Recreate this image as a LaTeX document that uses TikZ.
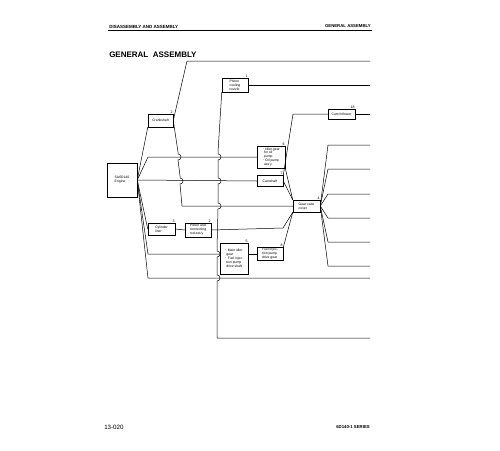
\documentclass[tikz,border=0pt]{standalone}
\usepackage{fontspec}
\setmainfont{Liberation Sans}
\usetikzlibrary{positioning}

\begin{document}
\begin{tikzpicture}[x=1pt,y=-1pt,
  part/.style={draw, rectangle, inner sep=0.8pt, align=left,
               font=\fontsize{3.4}{3.9}\selectfont},
  num/.style={font=\fontsize{3.6}{4}\selectfont, inner sep=0.4pt, anchor=south east},
  hopv/.style 2 args={insert path={-- (#1,#2-3) .. controls (#1+4,#2-3) and (#1+4,#2+3) .. (#1,#2+3)}},
  line width=0.5pt
]
  \useasboundingbox (0,0) rectangle (500,450);

  % page header and footer
  \node[anchor=west, font=\fontsize{4.5}{5}\selectfont\bfseries, inner sep=0] (hl) at (109,26.5) {DISASSEMBLY AND ASSEMBLY};
  \node[anchor=east, font=\fontsize{4.3}{5}\selectfont\bfseries, inner sep=0] (hr) at (371,26.5) {GENERAL ASSEMBLY};
  \draw[line width=0.9pt] (108,30.5) -- (372,30.5);
  \node[anchor=west, font=\fontsize{8}{10}\selectfont\bfseries, inner sep=0] (title) at (109,55) {GENERAL\ \ ASSEMBLY};
  \node[anchor=west, font=\fontsize{6.2}{7}\selectfont, inner sep=0] (page) at (104,427) {13-020};
  \node[anchor=east, font=\fontsize{4.3}{5}\selectfont\bfseries, inner sep=0] (series) at (370,427) {6D140-1 SERIES};

  % parts
  \node[part, minimum width=30pt, minimum height=34pt] (eng) at (122,180) {SA6D140\\Engine};
  \node[part, minimum width=25pt, minimum height=13pt] (crank) at (160.5,120.5) {Crankshaft};
  \node[part, minimum width=26pt, minimum height=14pt] (nozzle) at (235,85) {Piston\\cooling\\nozzle};
  \node[part, minimum width=27pt, minimum height=10pt] (camf) at (341.5,114) {Cam follower};
  \node[part, minimum width=28pt, minimum height=22pt] (idler) at (271,157) {$\cdot$ Idler gear\\\ \ for oil\\\ \ pump\\$\cdot$ Oil pump\\\ \ ass'y};
  \node[part, minimum width=26pt, minimum height=11pt] (cam) at (270,181) {Camshaft};
  \node[part, minimum width=27pt, minimum height=12pt] (gcc) at (306.5,206) {Gear case\\cover};
  \node[part, minimum width=27pt, minimum height=12pt] (cyl) at (161.5,229) {Cylinder\\liner};
  \node[part, minimum width=26pt, minimum height=14pt] (piston) at (198,230) {Piston and\\connecting\\rod ass'y};
  \node[part, minimum width=28pt, minimum height=31pt] (midler) at (234,258.5) {$\cdot$ Main idler\\\ \ gear\\$\cdot$ Fuel injec-\\\ \ tion pump\\\ \ drive shaft};
  \node[part, minimum width=26pt, minimum height=12pt] (fgear) at (270,254) {Fuel injec-\\tion pump\\drive gear};

  % order numbers
  \node[num] (n1) at (nozzle.north east) {1};
  \node[num] (n2) at (crank.north east) {2};
  \node[num] (n16) at (camf.north east) {18};
  \node[num] (n6) at (idler.north east) {6};
  \node[num] (n7) at (cam.north east) {7};
  \node[num] (n4) at (gcc.north east) {4};
  \node[num] (n3) at (cyl.north east) {3};
  \node[num] (n12) at (piston.north east) {2};
  \node[num] (n5) at (midler.north east) {5};
  \node[num] (n8) at (fgear.north east) {8};

  % free ends at the right margin
  \coordinate (top) at (370,61);
  \coordinate (nozend) at (370,85);
  \coordinate (camfend) at (370,114);
  \coordinate (low1) at (370,278);
  \coordinate (low2) at (370,338);

  % engine fan
  \draw (eng.east) -- (crank.south west);
  \draw (eng.east) -- (148,157) -- (idler.west |- 0,157);
  \draw (eng.east) -- (cam.west);
  \draw (eng.east) -- (cyl.west);
  \draw (eng.east) -- (148,254) -- (216.5,254) -- (midler.west |- 0,254);
  \draw (eng.east) -- (148,278) -- (low1);

  % crankshaft
  \draw (crank.east) -- (187,61) -- (top);
  \draw (crank.east) -- (178,152) [hopv={178}{157}] -- (180,176) [hopv={180}{181}] -- (182,206) -- (gcc.west);

  % nozzle
  \draw (nozzle.south west) -- (218,152) [hopv={218}{157}] [hopv={218}{181}] [hopv={218}{206}]
        -- (217,249) [hopv={217}{254}] [hopv={217}{278}] -- (217,338) -- (low2);
  \draw (nozzle.east) -- (nozend);

  % middle links
  \draw (cyl.east) -- (piston.west);
  \draw (piston.east) -- (283,228) -- (gcc.south west);
  \draw (midler.east |- 0,254) -- (fgear.west);
  \draw (fgear.north east) -- (gcc.south west);
  \draw (camf.west) -- (293,114) -- (cam.north east);
  \draw (camf.east) -- (camfend);
  \draw (idler.south east) -- (gcc.north west);
  \draw (cam.east) -- (gcc.north west);

  % gear case cover fan
  \foreach \y [count=\i] in {145,169,194,218,242,266} {
    \coordinate (r\i) at (370,\y);
    \draw (gcc.east) -- (328,\y) -- (r\i);
  }
\end{tikzpicture}
\end{document}
